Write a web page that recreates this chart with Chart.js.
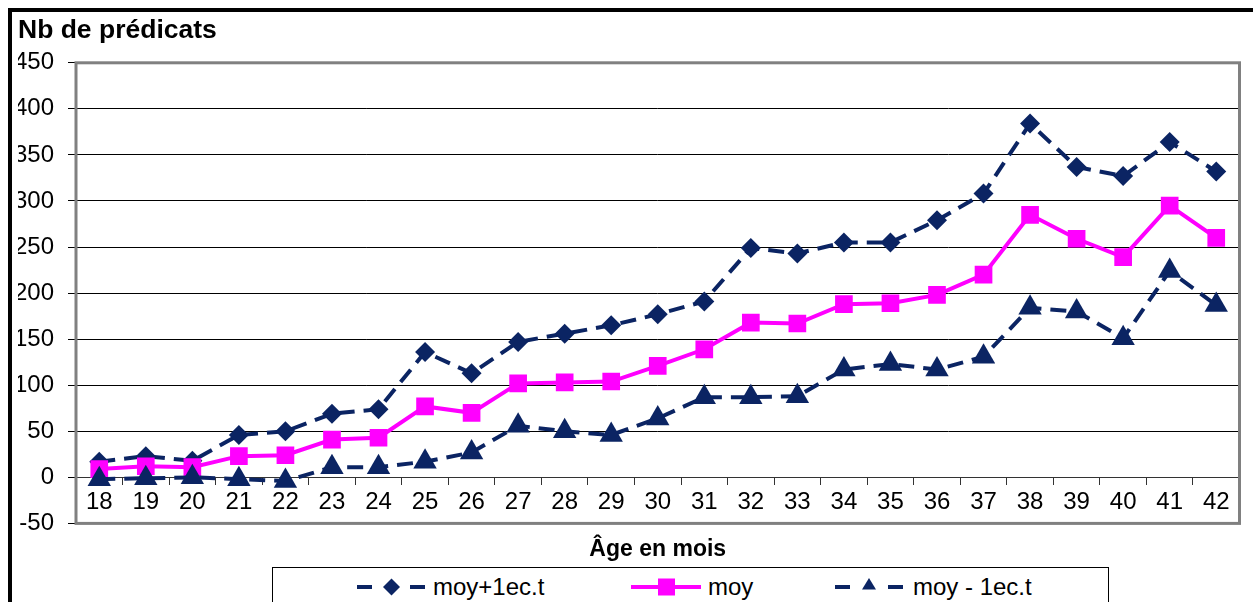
<!DOCTYPE html>
<html>
<head>
<meta charset="utf-8">
<script src="https://cdn.jsdelivr.net/npm/chart.js@4.4.1/dist/chart.umd.min.js"></script>
<style>
    body { margin: 0; background: #fff; font-family: "Liberation Sans", Arial, sans-serif; }
    #frame { position: absolute; left: 8px; top: 8px; width: 1400px; height: 700px;
             border-left: 4px solid #000; border-top: 4px solid #000; }
    #chart { position: absolute; left: 0; top: 0; }
    #legendBox { position: absolute; left: 272px; top: 567px; width: 835px; height: 60px;
                 border: 1.5px solid #000; background: #fff; }
    .sym { position: absolute; top: 577px; }
    .lbl { position: absolute; top: 575px; font-size: 24px; line-height: 24px; color: #000; white-space: nowrap; }
</style>
</head>
<body>
<div id="frame"></div>
<canvas id="chart" width="1253" height="602"></canvas>
<div id="legendBox"></div>
<svg class="sym" style="left:355px" width="72" height="20">
    <line x1="2" y1="10" x2="17" y2="10" stroke="#0b2463" stroke-width="4"/>
    <line x1="55" y1="10" x2="70" y2="10" stroke="#0b2463" stroke-width="4"/>
    <polygon points="36.5,1.5 45,10 36.5,18.5 28,10" fill="#0b2463"/>
</svg>
<span class="lbl" style="left:433px">moy+1ec.t</span>
<svg class="sym" style="left:631px" width="72" height="20">
    <line x1="0" y1="10" x2="70" y2="10" stroke="#ff00ff" stroke-width="4"/>
    <rect x="27" y="1.5" width="17" height="17" fill="#ff00ff"/>
</svg>
<span class="lbl" style="left:708px">moy</span>
<svg class="sym" style="left:833px" width="72" height="20">
    <line x1="2" y1="10" x2="17" y2="10" stroke="#0b2463" stroke-width="4"/>
    <line x1="55" y1="10" x2="70" y2="10" stroke="#0b2463" stroke-width="4"/>
    <polygon points="36,1 43,12.5 29,12.5" fill="#0b2463"/>
</svg>
<span class="lbl" style="left:913px">moy - 1ec.t</span>

<script>
// ages (months)
const ages = ['18', '19', '20', '21', '22', '23', '24', '25', '26', '27', '28', '29', '30',
              '31', '32', '33', '34', '35', '36', '37', '38', '39', '40', '41', '42'];
// moyenne + 1 écart-type
const plusOneSd = [17, 23, 18, 46, 50, 69, 74, 136, 113, 147, 156, 165, 177,
                   191, 249, 243, 255, 255, 279, 308, 384, 337, 327, 364, 332];
// moyenne
const mean = [9, 12, 11, 23, 24, 41, 43, 77, 70, 102, 103, 104, 121,
              139, 168, 167, 188, 189, 198, 220, 285, 259, 239, 295, 260];
// moyenne - 1 écart-type
const minusOneSd = [-2, -1, 0, -2, -4, 11, 11, 17, 27, 56, 50, 46, 64,
                    87, 87, 88, 117, 123, 117, 131, 184, 180, 151, 224, 187];
const yTicks = { min: -50, max: 450, step: 50 };

const NAVY = '#0b2463';
const PINK = '#ff00ff';
const FONT = '"Liberation Sans", Arial, sans-serif';

Chart.defaults.font.family = FONT;

// grey frame round the plot area
const plotFrame = {
    id: 'plotFrame',
    beforeDatasetsDraw(chart) {
        const { ctx, chartArea: a } = chart;
        ctx.save();
        ctx.strokeStyle = '#808080';
        ctx.lineWidth = 3;
        ctx.strokeRect(a.left, a.top, a.right - a.left, a.bottom - a.top);
        ctx.restore();
    }
};

new Chart(document.getElementById('chart'), {
    type: 'line',
    data: {
        labels: ages,
        datasets: [
            {
                label: 'moy+1ec.t',
                data: plusOneSd,
                borderColor: NAVY,
                backgroundColor: NAVY,
                borderWidth: 4,
                borderDash: [16, 9],
                pointStyle: 'rectRot',
                pointRadius: 10,
                pointBorderWidth: 0,
                tension: 0,
                order: 3
            },
            {
                label: 'moy',
                data: mean,
                borderColor: PINK,
                backgroundColor: PINK,
                borderWidth: 4,
                pointStyle: 'rect',
                pointRadius: 12.5,
                pointBorderWidth: 0,
                tension: 0,
                order: 2
            },
            {
                label: 'moy - 1ec.t',
                data: minusOneSd,
                borderColor: NAVY,
                backgroundColor: NAVY,
                borderWidth: 4,
                borderDash: [16, 9],
                pointStyle: 'triangle',
                pointRadius: 13.5,
                pointBorderWidth: 0,
                tension: 0,
                order: 1
            }
        ]
    },
    options: {
        responsive: false,
        animation: false,
        layout: {
            padding: { left: 18, right: 5, top: 0, bottom: 32 }
        },
        plugins: {
            legend: { display: false },
            tooltip: { enabled: false },
            title: {
                display: true,
                text: 'Nb de prédicats',
                align: 'start',
                color: '#000',
                font: { size: 26.5, weight: 'bold' },
                padding: { top: 15, bottom: 16 }
            }
        },
        scales: {
            x: {
                type: 'category',
                offset: true,
                grid: { display: false, drawTicks: false },
                border: { display: false },
                ticks: { display: false },
                title: {
                    display: true,
                    text: 'Âge en mois',
                    color: '#000',
                    font: { size: 23, weight: 'bold' },
                    padding: { top: 12, bottom: 7 }
                }
            },
            xZero: {
                type: 'category',
                axis: 'x',
                position: { y: 0 },
                offset: true,
                grid: { drawOnChartArea: false, offset: true, tickLength: 7, color: '#333', lineWidth: 1 },
                border: { display: true, color: '#333', width: 1 },
                ticks: { color: '#000', font: { size: 24 }, padding: 4, maxRotation: 0, autoSkip: false }
            },
            y: {
                min: yTicks.min,
                max: yTicks.max,
                ticks: { stepSize: yTicks.step, color: '#000', font: { size: 24 }, padding: 14 },
                grid: { color: '#000', lineWidth: 1, tickLength: 8 },
                border: { display: false },
                afterFit(scale) { scale.width = 58; }
            }
        }
    },
    plugins: [plotFrame]
});
</script>
</body>
</html>
